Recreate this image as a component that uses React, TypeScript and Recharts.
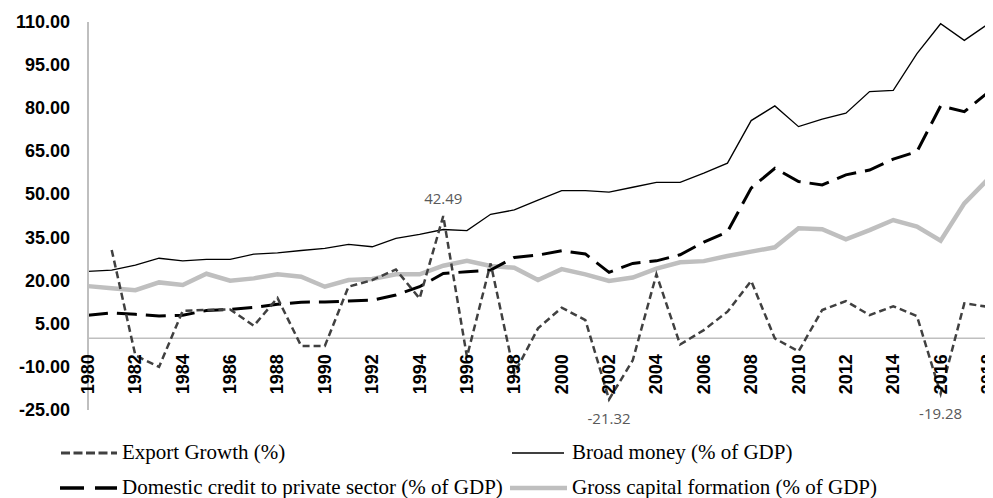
import React from "react";
import { LineChart, Line, XAxis, YAxis, ReferenceLine, LabelList } from "recharts";

const years = [
  1980, 1981, 1982, 1983, 1984, 1985, 1986, 1987, 1988, 1989,
  1990, 1991, 1992, 1993, 1994, 1995, 1996, 1997, 1998, 1999,
  2000, 2001, 2002, 2003, 2004, 2005, 2006, 2007, 2008, 2009,
  2010, 2011, 2012, 2013, 2014, 2015, 2016, 2017, 2018,
];

const exportGrowth = [
  null, 30.7, -6.0, -10.0, 9.5, 9.8, 10.0, 4.3, 14.0, -2.7,
  -2.7, 17.9, 20.2, 23.9, 13.8, 42.49, -6.5, 26.0, -12.3, 3.4,
  10.6, 6.3, -21.32, -7.7, 22.2, -2.2, 2.8, 9.2, 19.9, -0.1,
  -4.6, 9.8, 12.9, 8.0, 11.1, 7.7, -19.28, 12.1, 10.9,
];

const broadMoney = [
  23.2, 23.7, 25.4, 27.8, 26.9, 27.4, 27.4, 29.2, 29.7, 30.5,
  31.2, 32.6, 31.8, 34.7, 36.1, 37.8, 37.4, 43.1, 44.6, 48.0,
  51.3, 51.3, 50.8, 52.5, 54.2, 54.2, 57.4, 60.9, 75.7, 80.8,
  73.6, 76.2, 78.3, 85.8, 86.2, 99.0, 109.4, 103.6, 109.3,
];

const domesticCredit = [
  8.0, 8.8, 8.3, 7.7, 8.0, 9.6, 10.0, 10.7, 11.8, 12.5,
  12.6, 12.9, 13.2, 15.0, 17.9, 22.5, 23.1, 23.7, 28.1, 28.9,
  30.4, 29.3, 22.9, 26.0, 26.9, 29.0, 33.4, 37.0, 52.2, 59.1,
  54.5, 53.3, 56.8, 58.5, 62.3, 64.9, 80.8, 78.8, 85.5,
];

const grossCapital = [
  18.1, 17.4, 16.7, 19.4, 18.5, 22.4, 20.0, 20.8, 22.2, 21.4,
  17.9, 20.2, 20.6, 22.2, 22.2, 25.2, 26.9, 25.1, 24.5, 20.2,
  24.0, 22.2, 19.9, 21.1, 24.2, 26.4, 26.8, 28.6, 30.1, 31.6,
  38.2, 37.9, 34.4, 37.6, 41.1, 38.8, 33.9, 46.9, 55.3,
];

const yTicks = [-25, -10, 5, 20, 35, 50, 65, 80, 95, 110];
const labeledYears = [1995, 2002, 2016];

const seriesNames = {
  exp: "Export Growth (%)",
  broad: "Broad money (% of GDP)",
  dom: "Domestic credit to private sector (% of GDP)",
  gross: "Gross capital formation (% of GDP)",
};

const data = years.map((y, i) => ({
  year: y,
  exp: exportGrowth[i],
  broad: broadMoney[i],
  dom: domesticCredit[i],
  gross: grossCapital[i],
}));

const W = 985;
const H = 490;
const M_TOP = 14;
const M_RIGHT = 5;
const Y_AXIS_W = 80;
const X_AXIS_H = 88;
const Y_MIN = -25;
const Y_MAX = 110;
const PLOT_H = H - M_TOP - X_AXIS_H;
const ZERO_FROM_BOTTOM = (PLOT_H * (0 - Y_MIN)) / (Y_MAX - Y_MIN);

const XTick = (props: any) => {
  const { x, y, payload } = props;
  const ty = y - ZERO_FROM_BOTTOM + 16;
  return (
    <text
      x={x}
      y={ty}
      transform={`rotate(-90, ${x}, ${ty})`}
      textAnchor="end"
      dominantBaseline="central"
      fontFamily="'Liberation Sans', Arial, sans-serif"
      fontWeight="bold"
      fontSize={18}
      fill="#000"
    >
      {payload.value}
    </text>
  );
};

const YTick = (props: any) => {
  const { x, y, payload } = props;
  return (
    <text
      x={x}
      y={y}
      textAnchor="end"
      dominantBaseline="central"
      fontFamily="'Liberation Sans', Arial, sans-serif"
      fontWeight="bold"
      fontSize={18}
      fill="#000"
    >
      {Number(payload.value).toFixed(2)}
    </text>
  );
};

const ExportLabel = (props: any) => {
  const { x, y, value, index } = props;
  if (value == null || !labeledYears.includes(years[index])) return null;
  const ty = value >= 0 ? y - 12 : y + 25;
  return (
    <text
      x={x}
      y={ty}
      textAnchor="middle"
      fontFamily="'Open Sans', sans-serif"
      fontSize={15}
      fill="#595959"
    >
      {Number(value).toFixed(2)}
    </text>
  );
};

const legendText: React.CSSProperties = {
  position: "absolute",
  fontFamily: "'Liberation Serif', 'Times New Roman', serif",
  fontSize: 21,
  color: "#000",
  whiteSpace: "nowrap",
  lineHeight: "24px",
};

const Sample = ({ left, top, w, stroke, sw, dash }: any) => (
  <svg style={{ position: "absolute", left, top: top - 5 }} width={w} height={10}>
    <line x1={0} y1={5} x2={w} y2={5} stroke={stroke} strokeWidth={sw} strokeDasharray={dash} />
  </svg>
);

const ROW1 = 445;
const ROW2 = 480;

const LegendBlock = () => (
  <div style={{ position: "absolute", left: 0, top: 0, width: W, height: H, pointerEvents: "none" }}>
    <Sample left={53} top={ROW1} w={56} stroke="#404040" sw={3} dash="9 3.5" />
    <div style={{ ...legendText, left: 114, top: ROW1 - 13 }}>{seriesNames.exp}</div>
    <Sample left={504} top={ROW1} w={52} stroke="#000" sw={1.3} />
    <div style={{ ...legendText, left: 564, top: ROW1 - 13 }}>{seriesNames.broad}</div>
    <Sample left={52} top={ROW2} w={57} stroke="#000" sw={3.5} dash="24 11" />
    <div style={{ ...legendText, left: 114, top: ROW2 - 13 }}>{seriesNames.dom}</div>
    <Sample left={502} top={ROW2} w={57} stroke="#bfbfbf" sw={4.5} />
    <div style={{ ...legendText, left: 564, top: ROW2 - 13 }}>{seriesNames.gross}</div>
  </div>
);

export default function App() {
  return (
    <div style={{ position: "relative", width: W, height: H }}>
      <LineChart
        width={W}
        height={H}
        data={data}
        margin={{ top: M_TOP, right: M_RIGHT, bottom: 0, left: 0 }}
      >
        <XAxis
          dataKey="year"
          height={X_AXIS_H}
          axisLine={false}
          tickLine={false}
          tickSize={0}
          tickMargin={0}
          interval={1}
          tick={<XTick />}
        />
        <YAxis
          width={Y_AXIS_W}
          domain={[Y_MIN, Y_MAX]}
          ticks={yTicks}
          interval={0}
          axisLine={{ stroke: "#bfbfbf", strokeWidth: 2 }}
          tickLine={false}
          tickSize={0}
          tickMargin={18}
          tick={<YTick />}
        />
        <ReferenceLine y={0} stroke="#bfbfbf" strokeWidth={1.5} />
        <Line
          dataKey="gross"
          name={seriesNames.gross}
          stroke="#bfbfbf"
          strokeWidth={4.5}
          dot={false}
          activeDot={false}
          isAnimationActive={false}
        />
        <Line
          dataKey="dom"
          name={seriesNames.dom}
          stroke="#000"
          strokeWidth={3}
          strokeDasharray="20 9"
          dot={false}
          activeDot={false}
          isAnimationActive={false}
        />
        <Line
          dataKey="broad"
          name={seriesNames.broad}
          stroke="#000"
          strokeWidth={1.3}
          dot={false}
          activeDot={false}
          isAnimationActive={false}
        />
        <Line
          dataKey="exp"
          name={seriesNames.exp}
          stroke="#404040"
          strokeWidth={2.5}
          strokeDasharray="7 4"
          dot={false}
          activeDot={false}
          isAnimationActive={false}
        >
          <LabelList dataKey="exp" content={<ExportLabel />} />
        </Line>
      </LineChart>
      <LegendBlock />
    </div>
  );
}
